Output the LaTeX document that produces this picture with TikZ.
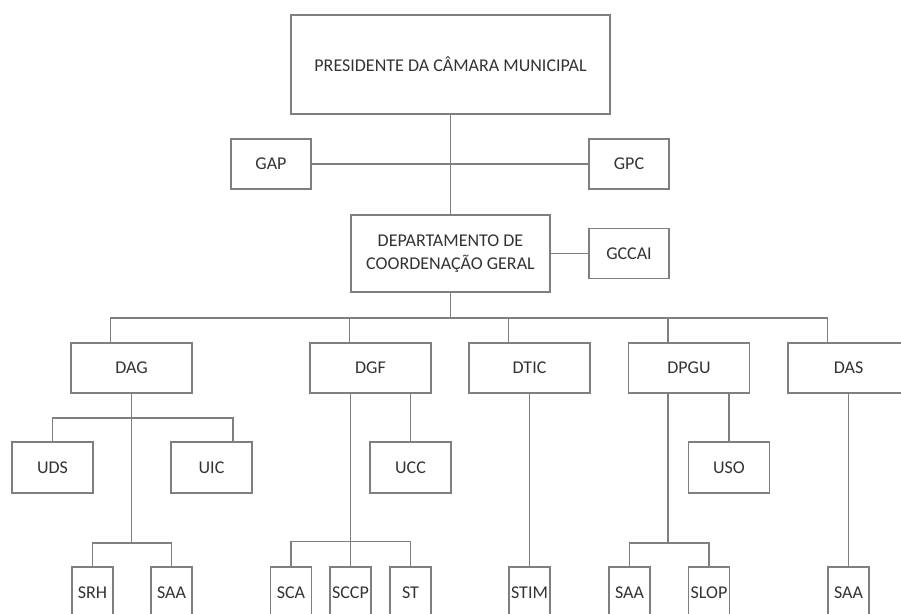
\documentclass[tikz,border=0pt]{standalone}
\usepackage{fontspec}
\setmainfont{Carlito}
\usetikzlibrary{calc}
\usepackage{xcolor}
\definecolor{cLine}{HTML}{7F7F7F}
\definecolor{cText}{HTML}{333333}
\tikzset{
  orgbox/.style={
    draw=cLine, fill=white, line width=1.5pt,
    font=\fontsize{18}{23}\selectfont, text=cText,
    align=center, inner sep=0pt,
  },
  topbox/.style={orgbox, minimum width=319pt, minimum height=99pt},
  sidebox/.style={orgbox, minimum width=80pt, minimum height=50pt},
  deptbox/.style={orgbox, minimum width=121pt, minimum height=50pt},
  unitbox/.style={orgbox, minimum width=81pt, minimum height=51pt},
  secbox/.style={orgbox, minimum width=41pt, minimum height=52pt},
  link/.style={draw=cLine, line width=1.5pt},
}
\begin{document}
\begin{tikzpicture}[x=1pt, y=-1pt]
  \useasboundingbox (0,0) rectangle (901,613);
  \clip (0,0) rectangle (901,613);

  % Top of the chart
  \node[topbox] (pres) at (450.5,64.5) {PRESIDENTE DA CÂMARA MUNICIPAL};
  \node[sidebox] (gap) at (271,164) {GAP};
  \node[sidebox] (gpc) at (629,164) {GPC};
  \node[orgbox, minimum width=199pt, minimum height=77pt] (dcg) at (450.5,253.5)
    {DEPARTAMENTO DE\\COORDENAÇÃO GERAL};
  \node[sidebox] (gccai) at (629,253.5) {GCCAI};

  % Departments
  \node[deptbox] (dag)  at (131.5,368) {DAG};
  \node[deptbox] (dgf)  at (370.5,368) {DGF};
  \node[deptbox] (dtic) at (529.5,368) {DTIC};
  \node[deptbox] (dpgu) at (689,368)   {DPGU};
  \node[deptbox] (das)  at (848.5,368) {DAS};

  % Units
  \node[unitbox] (uds) at (52.5,467.5)  {UDS};
  \node[unitbox] (uic) at (211.5,467.5) {UIC};
  \node[unitbox] (ucc) at (410.5,467.5) {UCC};
  \node[unitbox] (uso) at (729,467.5)   {USO};

  % Sections (cut off at the bottom)
  \node[secbox] (srh)  at (92.5,593)  {SRH};
  \node[secbox] (saaA) at (171.5,593) {SAA};
  \node[secbox] (sca)  at (291,593)   {SCA};
  \node[secbox] (sccp) at (350.5,593) {SCCP};
  \node[secbox] (st)   at (410.5,593) {ST};
  \node[secbox] (stim) at (529.5,593) {STIM};
  \node[secbox] (saaB) at (629.5,593) {SAA};
  \node[secbox] (slop) at (709,593)   {SLOP};
  \node[secbox] (saaC) at (848.5,593) {SAA};

  % Upper links
  \draw[link] (pres.south) -- (dcg.north);
  \draw[link] (gap.east) -- (gpc.west);
  \draw[link] (dcg.east) -- (gccai.west);

  % Main bar to the departments
  \coordinate (bar) at ($(dcg.south)+(0,25)$);
  \draw[link] (dcg.south) -- (bar);
  \foreach \d in {dag,dgf,dtic,dpgu,das}
    \draw[link] ($(\d.north west)+(40,0)$) |- (bar);

  % DAG
  \coordinate (dagU) at ($(dag.south)+(0,24)$);
  \coordinate (dagS) at ($(dag.south)+(0,149)$);
  \draw[link] (dag.south) -- (dagS);
  \draw[link] (uds.north) |- (dagU) -| ($(uic.north east)+(-20,0)$);
  \draw[link] (srh.north) |- (dagS) -| (saaA.north);

  % DGF
  \coordinate (dgfS) at ($(sccp.north)+(0,-25)$);
  \draw[link] (sccp.north) -- (sccp.north |- dgf.south);
  \draw[link] (ucc.north) -- (ucc.north |- dgf.south);
  \draw[link] (sca.north) |- (dgfS) -| (st.north);

  % DTIC
  \draw[link] (stim.north) -- (stim.north |- dtic.south);

  % DPGU
  \coordinate (dpguS) at ($(dpgu.south west)+(40,149)$);
  \draw[link] ($(dpgu.south west)+(40,0)$) -- (dpguS);
  \draw[link] (uso.north) -- (uso.north |- dpgu.south);
  \draw[link] (saaB.north) |- (dpguS) -| (slop.north);

  % DAS
  \draw[link] (saaC.north) -- (saaC.north |- das.south);

\end{tikzpicture}
\end{document}
